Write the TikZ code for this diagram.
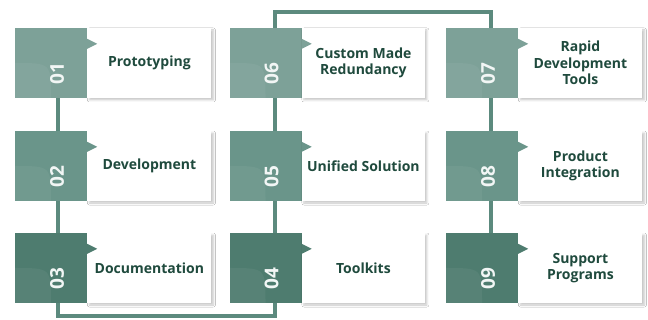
\documentclass[tikz,border=0pt]{standalone}
\usepackage{fontspec}
\setmainfont{Open Sans}
\usetikzlibrary{backgrounds,shadows.blur}

\definecolor{boxA}{HTML}{7DA198}
\definecolor{boxB}{HTML}{6A958A}
\definecolor{boxC}{HTML}{4E7C6F}
\definecolor{linkc}{HTML}{5C8A7E}
\definecolor{inkc}{HTML}{1F4A3D}

\begin{document}
\begin{tikzpicture}[x=1pt,y=-1pt,
  sq/.style={minimum width=72pt,minimum height=70pt,inner sep=0pt,
    path picture={\fill[white,opacity=0.05] (path picture bounding box.west)
      .. controls (path picture bounding box.center) .. (path picture bounding box.south)
      -- (path picture bounding box.south west) -- cycle;}},
  card/.style={fill=white,minimum width=124pt,minimum height=70pt,inner sep=2pt,
    align=center,text=inkc,font=\fontsize{14}{16.5}\selectfont\bfseries,
    blur shadow={shadow xshift=2pt,shadow yshift=-2pt,shadow blur radius=2pt,
      shadow blur steps=5,shadow opacity=22}},
  num/.style={rotate=90,text=white!90!boxA,font=\fontsize{19}{19}\selectfont\bfseries},
  link/.style={linkc,line width=4pt}]
  \useasboundingbox (0,0) rectangle (648,320);

  \coordinate (hi) at (0,12);
  \coordinate (lo) at (0,316);

  % first column
  \node[sq,fill=boxA] (n1) at (51,63) {};
  \node[card,anchor=west] (t1) at (n1.east) {Prototyping};
  \fill[boxA] ([yshift=-11pt]n1.north east) -- ++(10,5) -- ++(-10,5) -- cycle;
  \node[num] (d1) at ([xshift=6pt,yshift=-11pt]n1.center) {01};

  \node[sq,fill=boxB] (n2) at (51,166) {};
  \node[card,anchor=west] (t2) at (n2.east) {Development};
  \fill[boxB] ([yshift=-11pt]n2.north east) -- ++(10,5) -- ++(-10,5) -- cycle;
  \node[num] (d2) at ([xshift=6pt,yshift=-11pt]n2.center) {02};

  \node[sq,fill=boxC] (n3) at (51,268) {};
  \node[card,anchor=west] (t3) at (n3.east) {Documentation};
  \fill[boxC] ([yshift=-11pt]n3.north east) -- ++(10,5) -- ++(-10,5) -- cycle;
  \node[num] (d3) at ([xshift=6pt,yshift=-11pt]n3.center) {03};

  % second column
  \node[sq,fill=boxA] (n6) at (265.5,63) {};
  \node[card,anchor=west,minimum width=123pt] (t6) at (n6.east) {Custom Made\\Redundancy};
  \fill[boxA] ([yshift=-11pt]n6.north east) -- ++(10,5) -- ++(-10,5) -- cycle;
  \node[num] (d6) at ([xshift=6pt,yshift=-11pt]n6.center) {06};

  \node[sq,fill=boxB] (n5) at (265.5,166) {};
  \node[card,anchor=west,minimum width=123pt] (t5) at (n5.east) {Unified Solution};
  \fill[boxB] ([yshift=-11pt]n5.north east) -- ++(10,5) -- ++(-10,5) -- cycle;
  \node[num] (d5) at ([xshift=6pt,yshift=-11pt]n5.center) {05};

  \node[sq,fill=boxC] (n4) at (265.5,268) {};
  \node[card,anchor=west,minimum width=123pt] (t4) at (n4.east) {Toolkits};
  \fill[boxC] ([yshift=-11pt]n4.north east) -- ++(10,5) -- ++(-10,5) -- cycle;
  \node[num] (d4) at ([xshift=6pt,yshift=-11pt]n4.center) {04};

  % third column
  \node[sq,fill=boxA] (n7) at (482,63) {};
  \node[card,anchor=west] (t7) at (n7.east) {Rapid\\Development\\Tools};
  \fill[boxA] ([yshift=-11pt]n7.north east) -- ++(10,5) -- ++(-10,5) -- cycle;
  \node[num] (d7) at ([xshift=6pt,yshift=-11pt]n7.center) {07};

  \node[sq,fill=boxB] (n8) at (482,166) {};
  \node[card,anchor=west] (t8) at (n8.east) {Product\\Integration};
  \fill[boxB] ([yshift=-11pt]n8.north east) -- ++(10,5) -- ++(-10,5) -- cycle;
  \node[num] (d8) at ([xshift=6pt,yshift=-11pt]n8.center) {08};

  \node[sq,fill=boxC] (n9) at (482,268) {};
  \node[card,anchor=west] (t9) at (n9.east) {Support\\Programs};
  \fill[boxC] ([yshift=-11pt]n9.north east) -- ++(10,5) -- ++(-10,5) -- cycle;
  \node[num] (d9) at ([xshift=6pt,yshift=-11pt]n9.center) {09};

  % the line through all steps
  \begin{scope}[on background layer]
    \fill[white] (0,0) rectangle (648,320);
    \draw[link] ([xshift=7pt]n1.center) |- ([xshift=9.5pt]n4.center |- lo)
      -- ([xshift=9.5pt]n6.center |- hi) -| ([xshift=9pt]n9.center);
  \end{scope}
\end{tikzpicture}
\end{document}
